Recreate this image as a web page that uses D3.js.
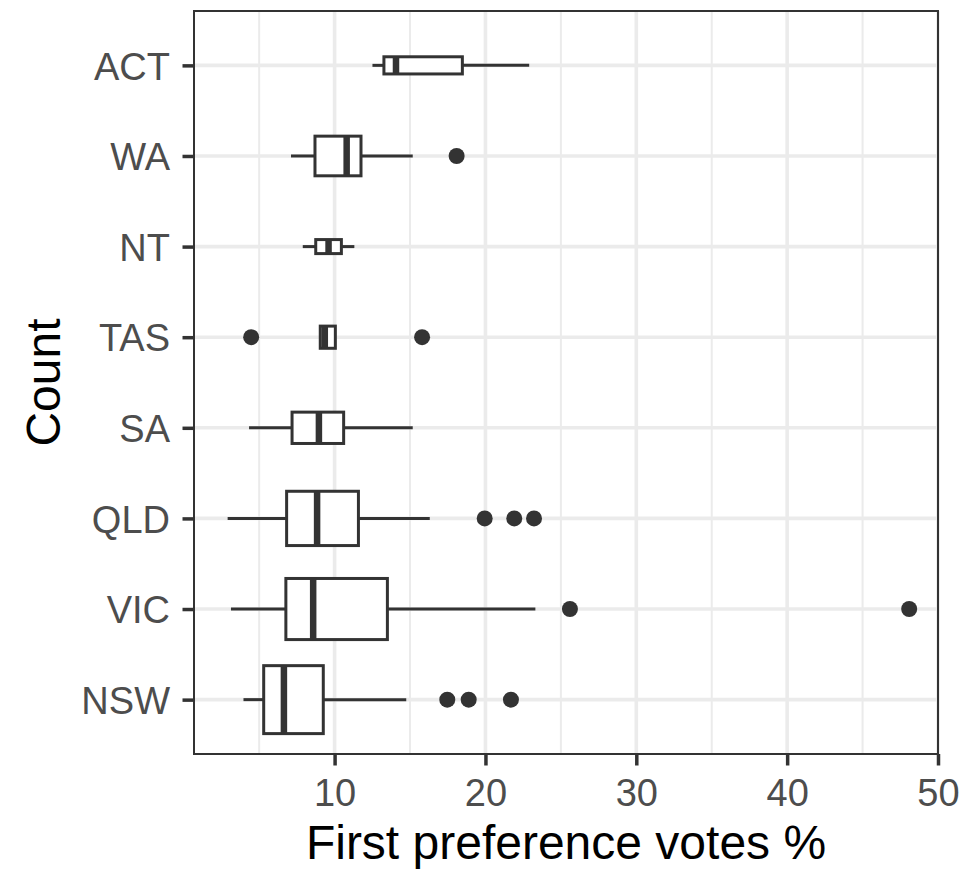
<!DOCTYPE html>
<html><head><meta charset="utf-8">
<script src="https://cdn.jsdelivr.net/npm/d3@7"></script>
<style>
html,body{margin:0;padding:0;background:#fff;}
svg{display:block;font-family:"Liberation Sans",Arial,Helvetica,sans-serif;}
</style></head>
<body>
<svg id="chart" width="965" height="869"></svg>
<script>
// ---- data ----
const states      = ["NSW","VIC","QLD","SA","TAS","NT","WA","ACT"];   // bottom -> top
const counts      = [47, 38, 30, 10, 5, 2, 16, 3];
const whiskerLow  = [3.96, 3.13, 2.91, 4.33, 9.05, 7.89, 7.11, 12.51];
const q1          = [5.30, 6.77, 6.82, 7.18, 9.05, 8.75, 8.70, 13.27];
const median      = [6.64, 8.58, 8.84, 8.96, 9.35, 9.60, 10.80, 14.07];
const q3          = [9.25, 13.50, 11.58, 10.60, 10.05, 10.45, 11.75, 18.47];
const whiskerHigh = [14.75, 23.31, 16.31, 15.18, 10.05, 11.31, 15.18, 22.90];
const outliersNSW = [17.47, 18.89, 21.69];
const outliersVIC = [25.60, 48.09];
const outliersQLD = [19.95, 21.91, 23.22];
const outliersSA  = [];
const outliersTAS = [4.47, 15.80];
const outliersNT  = [];
const outliersWA  = [18.09];
const outliersACT = [];
const outliers = [outliersNSW, outliersVIC, outliersQLD, outliersSA, outliersTAS, outliersNT, outliersWA, outliersACT];
const xTicks = [10, 20, 30, 40, 50];
const xMinorTicks = [5, 15, 25, 35, 45];
const xTitle = "First preference votes %";
const yTitle = "Count";

// ---- layout ----
const svg = d3.select("#chart");
const L = 194, R = 938, T = 11, B = 754;
const dark = "#333333";

const x = d3.scaleLinear().domain([0.68, 50.0]).range([L, R]);
// discrete axis with ggplot-like 0.6 expansion
const yPos = d3.scaleLinear().domain([0.4, states.length + 0.6]).range([B, T]);
const y = d3.scalePoint().domain(states).range([yPos(1), yPos(states.length)]);
const unit = yPos(0) - yPos(1);
const maxN = d3.max(counts);

const rows = states.map((s, i) => ({
  s, n: counts[i], lo: whiskerLow[i], q1: q1[i], med: median[i], q3: q3[i], hi: whiskerHigh[i], out: outliers[i]
}));

// panel background
svg.append("rect").attr("x", L).attr("y", T).attr("width", R - L).attr("height", B - T).attr("fill", "#fff");

// grid
const grid = svg.append("g");
grid.selectAll("line.minor").data(xMinorTicks).join("line")
  .attr("x1", d => x(d)).attr("x2", d => x(d)).attr("y1", T).attr("y2", B)
  .attr("stroke", "#EBEBEB").attr("stroke-width", 2);
grid.selectAll("line.majorx").data(xTicks).join("line")
  .attr("x1", d => x(d)).attr("x2", d => x(d)).attr("y1", T).attr("y2", B)
  .attr("stroke", "#EBEBEB").attr("stroke-width", 3.6);
grid.selectAll("line.majory").data(states).join("line")
  .attr("x1", L).attr("x2", R).attr("y1", d => y(d)).attr("y2", d => y(d))
  .attr("stroke", "#EBEBEB").attr("stroke-width", 3.6);

// boxplots
const g = svg.append("g");
rows.forEach(r => {
  const cy = y(r.s);
  const h = 0.75 * unit * Math.sqrt(r.n / maxN);
  g.append("line").attr("x1", x(r.lo)).attr("x2", x(r.q1)).attr("y1", cy).attr("y2", cy)
    .attr("stroke", dark).attr("stroke-width", 3);
  g.append("line").attr("x1", x(r.q3)).attr("x2", x(r.hi)).attr("y1", cy).attr("y2", cy)
    .attr("stroke", dark).attr("stroke-width", 3);
  g.append("rect").attr("x", x(r.q1)).attr("y", cy - h / 2)
    .attr("width", x(r.q3) - x(r.q1)).attr("height", h)
    .attr("fill", "#fff").attr("stroke", dark).attr("stroke-width", 3);
  g.append("line").attr("x1", x(r.med)).attr("x2", x(r.med)).attr("y1", cy - h / 2).attr("y2", cy + h / 2)
    .attr("stroke", dark).attr("stroke-width", 6.5);
  g.selectAll(null).data(r.out).join("circle")
    .attr("cx", d => x(d)).attr("cy", cy).attr("r", 8).attr("fill", dark);
});

// panel border
svg.append("rect").attr("x", L).attr("y", T).attr("width", R - L).attr("height", B - T)
  .attr("fill", "none").attr("stroke", dark).attr("stroke-width", 2);

// axes
const xAxis = svg.append("g").attr("transform", `translate(0,${B})`)
  .call(d3.axisBottom(x).tickValues(xTicks).tickSize(11.5).tickPadding(10).tickFormat(d3.format("d")));
const yAxis = svg.append("g").attr("transform", `translate(${L},0)`)
  .call(d3.axisLeft(y).tickSize(11.5).tickPadding(10));
[xAxis, yAxis].forEach(a => {
  a.select(".domain").remove();
  a.selectAll(".tick line").attr("stroke", dark).attr("stroke-width", 3.5);
  a.selectAll(".tick text").attr("fill", "#4D4D4D").attr("font-size", 38)
    .attr("font-family", "'Liberation Sans',Arial,Helvetica,sans-serif");
});
xAxis.selectAll(".tick text").attr("y", 806 - B).attr("dy", 0);
yAxis.selectAll(".tick text").attr("x", 170 - L).attr("dy", "0.36em");

// titles
svg.append("text").attr("x", (L + R) / 2).attr("y", 859).attr("text-anchor", "middle")
  .attr("font-size", 48).attr("fill", "#000").text(xTitle);
svg.append("text").attr("transform", `translate(60,${(T + B) / 2}) rotate(-90)`)
  .attr("text-anchor", "middle").attr("font-size", 48).attr("fill", "#000").text(yTitle);
</script>
</body></html>
